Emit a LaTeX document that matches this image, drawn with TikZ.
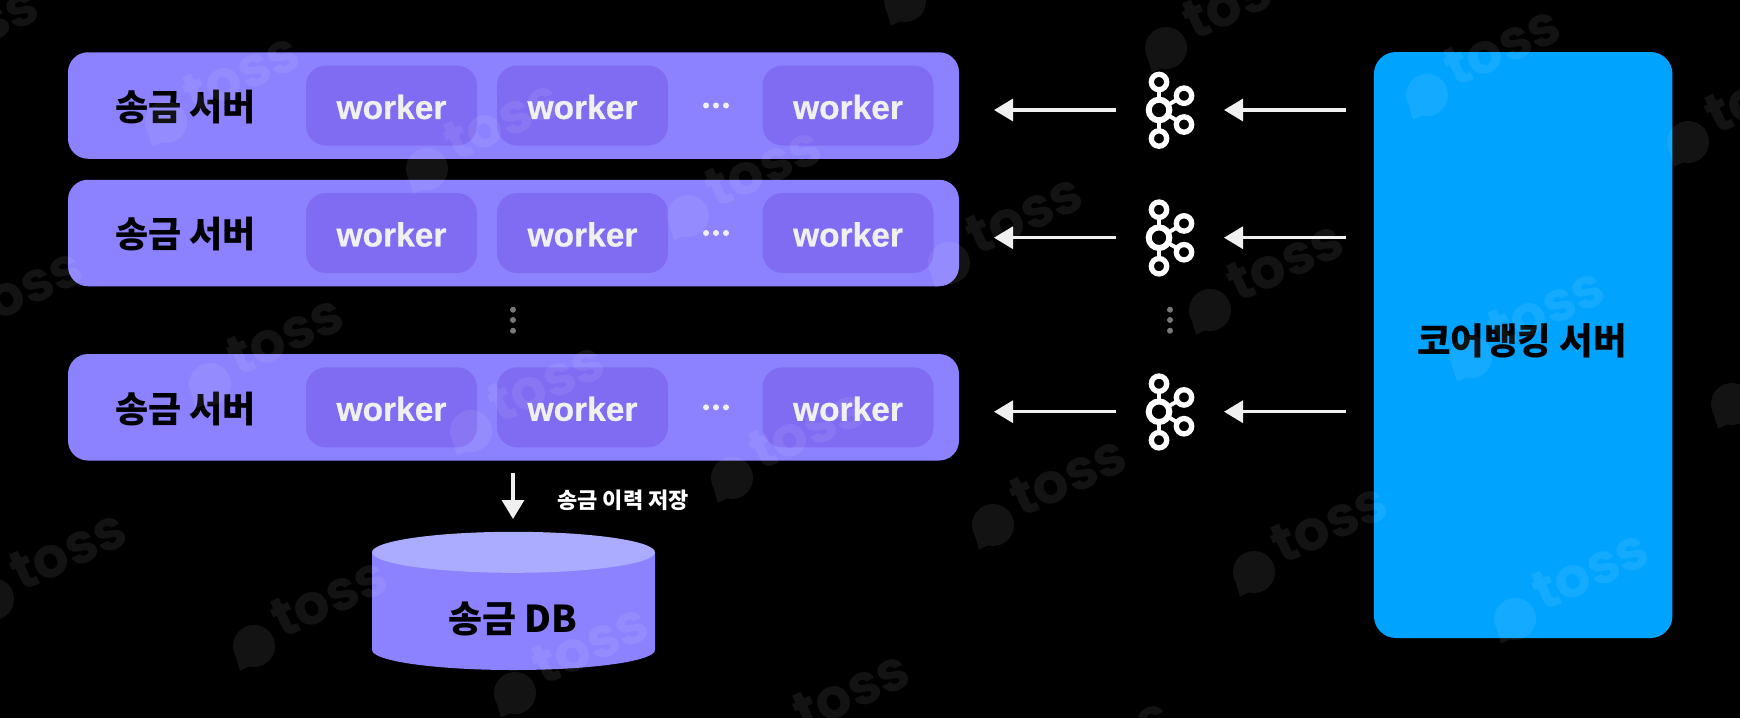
\documentclass[tikz,border=0pt]{standalone}
\usepackage{fontspec}
\usetikzlibrary{arrows.meta}
\newfontfamily\krfont{Noto Sans CJK KR}
\newfontfamily\wfont[BoldFeatures={FakeBold=0.6}]{Liberation Sans}
\newfontfamily\wmfont{Poppins}
\definecolor{rowc}{HTML}{8C82FF}
\definecolor{workc}{HTML}{806CF3}
\definecolor{topc}{HTML}{ABABFF}
\definecolor{bluec}{HTML}{00A4FF}
\definecolor{arrc}{HTML}{F0F0F0}
\definecolor{dotc}{HTML}{787878}
\tikzset{
  x=1pt,y=-1pt,
  rowbox/.style={fill=rowc,rounded corners=20pt,minimum width=891pt,minimum height=106.5pt,inner sep=0pt},
  workbox/.style={fill=workc,rounded corners=20pt,minimum width=171pt,minimum height=80pt,inner sep=0pt},
  worklab/.style={inner sep=0pt,text=arrc,font=\wfont\bfseries\fontsize{33.5}{34}\selectfont},
  title/.style={inner sep=0pt,text=black,font=\krfont\bfseries\fontsize{36}{36}\selectfont},
  small/.style={inner sep=0pt,text=white,font=\krfont\bfseries\fontsize{22}{22}\selectfont},
  flow/.style={draw=arrc,line width=3.2pt,-{Triangle[length=19pt,width=22pt,fill=arrc]}},
  ring/.style={draw=white,line width=5.3pt},
  bigring/.style={draw=white,line width=6pt},
  spoke/.style={draw=white,line width=4pt},
  graydot/.style={fill=dotc},
  whitedot/.style={fill=arrc},
  wmshape/.style={fill=white,fill opacity=0.075},
  wmtext/.style={inner sep=0pt,text=white,text opacity=0.075,rotate=25,font=\wmfont\bfseries\fontsize{56}{56}\selectfont},
}
\begin{document}
\begin{tikzpicture}
\useasboundingbox (0,0) rectangle (1740,718);
\fill[black] (0,0) rectangle (1740,718);
% rows
\foreach \i/\y in {1/105.5,2/233,3/407.3}{
  \node[rowbox] (row\i) at (513.5,\y) {};
  \node[title] (lab\i) at (185.4,\y+1.5) {송금 서버};
  \node[workbox] (wa\i) at (391.5,\y) {};
  \node[workbox] (wb\i) at (582.5,\y) {};
  \node[workbox] (wc\i) at (848,\y) {};
  \node[worklab] (wat\i) at (391.5,\y+1.5) {worker};
  \node[worklab] (wbt\i) at (582.5,\y+1.5) {worker};
  \node[worklab] (wct\i) at (848,\y+1.5) {worker};
  \foreach \d in {-10,0,10}{\fill[whitedot] (716+\d,\y) circle (3);}
}
% vertical dots
\foreach \x in {513,1170}{
  \foreach \y in {309.7,320,330.7}{\fill[graydot] (\x,\y) circle (3);}
}
% core banking
\node[fill=bluec,rounded corners=22pt,minimum width=298.5pt,minimum height=586pt,inner sep=0pt] (core) at (1523.2,345) {};
\node[title,font=\krfont\bfseries\fontsize{36.5}{37}\selectfont] (corelab) at (1522,341) {코어뱅킹 서버};
% kafka icons and arrows
\foreach \i/\y in {1/110,2/237.7,3/411.7}{
  \coordinate (k\i) at (1159,\y);
  \coordinate (kt\i) at (1159,\y-28);
  \coordinate (kb\i) at (1159,\y+28.5);
  \coordinate (kr\i) at (1184,\y-14.3);
  \coordinate (ks\i) at (1184,\y+14.5);
  \draw[spoke] (k\i) -- (kt\i);
  \draw[spoke] (k\i) -- (kb\i);
  \draw[spoke] (k\i) -- (kr\i);
  \draw[spoke] (k\i) -- (ks\i);
  \fill[black] (k\i) circle (8);
  \draw[bigring] (k\i) circle (10.3);
  \foreach \n in {kt,kb,kr,ks}{
    \fill[black] (\n\i) circle (6);
    \draw[ring] (\n\i) circle (7.7);
  }
  \coordinate (la\i) at (1116,\y);
  \coordinate (lb\i) at (994,\y);
  \coordinate (ra\i) at (1346,\y);
  \coordinate (rb\i) at (1224,\y);
  \draw[flow] (la\i) -- (lb\i);
  \draw[flow] (ra\i) -- (rb\i);
}
% down arrow and label
\coordinate (da) at (513,472.7);
\coordinate (db) at (513,519);
\draw[flow] (da) -- (db);
\node[small] (hist) at (623,500) {송금 이력 저장};
% database
\fill[rowc] (372,552.3) -- (372,650) arc[start angle=180,end angle=360,x radius=141.5,y radius=-20] -- (655,552.3) -- cycle;
\fill[topc] (513.5,552.3) ellipse[x radius=141.5,y radius=20.5];
\node[title,font=\krfont\bfseries\fontsize{37}{37}\selectfont] (dblab) at (513,618.5) {송금 DB};
% watermarks
\begin{scope}
\clip (0,0) rectangle (1740,718);
\foreach \a in {-3,...,7}{
  \foreach \b in {-2,...,3}{
    \pgfmathtruncatemacro{\wx}{166+261*\a+44*\b}
    \pgfmathtruncatemacro{\wy}{122+47*\a+262*\b}
    \pgfmathtruncatemacro{\wshow}{(\wx>-160)&&(\wx<1770)&&(\wy>-30)&&(\wy<790)?1:0}
    \ifnum\wshow=1
      \fill[wmshape] (\wx,\wy) circle (21)
        (\wx-4,\wy+20) -- (\wx-14,\wy+24.5) -- (\wx-21,\wy+1) -- cycle;
      \node[wmtext] at (\wx+75,\wy-49) {toss};
    \fi
  }
}
\end{scope}
\end{tikzpicture}
\end{document}
